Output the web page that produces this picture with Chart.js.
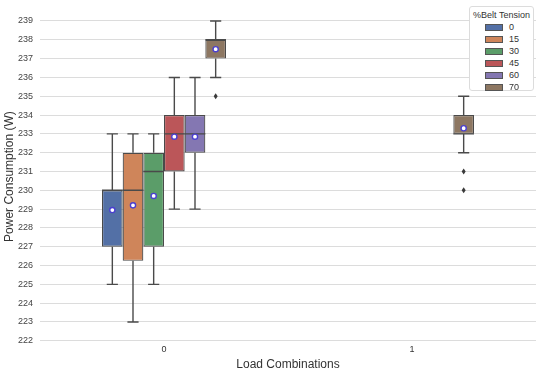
<!DOCTYPE html>
<html>
<head>
<meta charset="utf-8">
<script src="https://cdn.jsdelivr.net/npm/chart.js@4.4.1/dist/chart.umd.min.js"></script>
<style>
  html, body { margin: 0; padding: 0; background: #fff; }
  #wrap { position: relative; width: 550px; height: 374px; }
  #legend {
    position: absolute; left: 469px; top: 6px; width: 65px; height: 85px;
    border: 1px solid #dcdcdc; border-radius: 3px; background: #fff;
    font-family: "Liberation Sans", Arial, sans-serif; font-size: 9px; color: #333;
    box-sizing: border-box;
  }
  #legend .ttl { text-align: center; margin-top: 2px; height: 12px; line-height: 12px; }
  #legend .row { position: relative; height: 12px; line-height: 12px; }
  #legend .sw { position: absolute; left: 15px; top: 3px; width: 16px; height: 5px; border: 1px solid #555; }
  #legend .lb { position: absolute; left: 39px; top: 0; }
</style>
</head>
<body>
<div id="wrap">
  <canvas id="c" width="550" height="374"></canvas>
  <div id="legend"></div>
</div>
<script>
// ---- data ----
const categories = ['0', '1'];
const tensions = ['0', '15', '30', '45', '60', '70'];
const colors = ['#5370a6', '#cf855a', '#5b9d69', '#bb5659', '#8477b2', '#8d7762'];
// per series: [category 0, category 1]
const q1 = [[227, null], [226.25, null], [227, null], [231, null], [232, null], [237, 233]];
const q3 = [[230, null], [232, null], [232, null], [234, null], [234, null], [238, 234]];
const medians = [[230, null], [230, null], [231, null], [233, null], [233, null], [238, 233]];
const whiskerLow = [[225, null], [223, null], [225, null], [229, null], [229, null], [236, 232]];
const whiskerHigh = [[233, null], [233, null], [233, null], [236, null], [236, null], [239, 235]];
const means = [[228.95, null], [229.2, null], [229.7, null], [232.85, null], [232.85, null], [237.5, 233.3]];
const fliers = [[[], []], [[], []], [[], []], [[], []], [[], []], [[235], [231, 230]]];
const yTicks = [222, 223, 224, 225, 226, 227, 228, 229, 230, 231, 232, 233, 234, 235, 236, 237, 238, 239];

const lineColor = '#4a4a4a';

const datasets = tensions.map((t, i) => ({
  label: t,
  data: categories.map((c, j) => q1[i][j] === null ? null : [q1[i][j], q3[i][j]]),
  backgroundColor: colors[i],
  borderColor: lineColor,
  borderWidth: 1.2,
  borderSkipped: false,
  categoryPercentage: 0.5,
  barPercentage: 1.0
}));

const boxPlugin = {
  id: 'boxExtras',
  afterDatasetsDraw(chart) {
    const ctx = chart.ctx;
    const y = chart.scales.y;
    ctx.save();
    chart.data.datasets.forEach((ds, i) => {
      const meta = chart.getDatasetMeta(i);
      meta.data.forEach((bar, j) => {
        if (q1[i][j] === null) return;
        const x = bar.x, w = bar.width;
        ctx.strokeStyle = lineColor;
        ctx.lineWidth = 1.4;
        ctx.beginPath();
        ctx.moveTo(x, y.getPixelForValue(q1[i][j]));
        ctx.lineTo(x, y.getPixelForValue(whiskerLow[i][j]));
        ctx.moveTo(x, y.getPixelForValue(q3[i][j]));
        ctx.lineTo(x, y.getPixelForValue(whiskerHigh[i][j]));
        const cw = w * 0.27;
        const yl = y.getPixelForValue(whiskerLow[i][j]);
        const yh = y.getPixelForValue(whiskerHigh[i][j]);
        ctx.moveTo(x - cw, yl); ctx.lineTo(x + cw, yl);
        ctx.moveTo(x - cw, yh); ctx.lineTo(x + cw, yh);
        const ym = y.getPixelForValue(medians[i][j]);
        ctx.moveTo(x - w / 2, ym); ctx.lineTo(x + w / 2, ym);
        ctx.stroke();
        ctx.fillStyle = '#3a3a3a';
        fliers[i][j].forEach(v => {
          const yf = y.getPixelForValue(v);
          ctx.beginPath();
          ctx.moveTo(x, yf - 3);
          ctx.lineTo(x + 2, yf);
          ctx.lineTo(x, yf + 3);
          ctx.lineTo(x - 2, yf);
          ctx.closePath();
          ctx.fill();
        });
        const yMean = y.getPixelForValue(means[i][j]);
        ctx.beginPath();
        ctx.arc(x, yMean, 2.6, 0, Math.PI * 2);
        ctx.fillStyle = '#ffffff';
        ctx.fill();
        ctx.lineWidth = 1.4;
        ctx.strokeStyle = '#4a3fd0';
        ctx.stroke();
      });
    });
    ctx.restore();
  }
};

const font = "'Liberation Sans', Arial, sans-serif";

new Chart(document.getElementById('c'), {
  type: 'bar',
  data: { labels: categories, datasets },
  plugins: [boxPlugin],
  options: {
    responsive: false,
    animation: false,
    devicePixelRatio: 1,
    layout: { padding: { left: 0, right: 14, top: 8, bottom: 2 } },
    plugins: { legend: { display: false }, tooltip: { enabled: false } },
    scales: {
      x: {
        grid: { display: false, drawTicks: false },
        border: { display: false },
        ticks: { font: { family: font, size: 9 }, color: '#333', padding: 3 },
        title: { display: true, text: 'Load Combinations', font: { family: font, size: 12 }, color: '#333', padding: { top: 0, bottom: 0 } }
      },
      y: {
        min: 222,
        max: 239.457,
        afterBuildTicks(scale) { scale.ticks = yTicks.map(v => ({ value: v })); },
        afterFit(scale) { scale.width = 40; },
        grid: { color: '#dcdcdc', lineWidth: 1, drawTicks: false },
        border: { display: false },
        ticks: { font: { family: font, size: 9 }, color: '#444', padding: 7 },
        title: { display: true, text: 'Power Consumption (W)', font: { family: font, size: 12 }, color: '#333', padding: { top: 2, bottom: 2 } }
      }
    }
  }
});

const lg = document.getElementById('legend');
let html = '<div class="ttl">%Belt Tension</div>';
tensions.forEach((t, i) => {
  html += '<div class="row"><span class="sw" style="background:' + colors[i] + '"></span><span class="lb">' + t + '</span></div>';
});
lg.innerHTML = html;
</script>
</body>
</html>
